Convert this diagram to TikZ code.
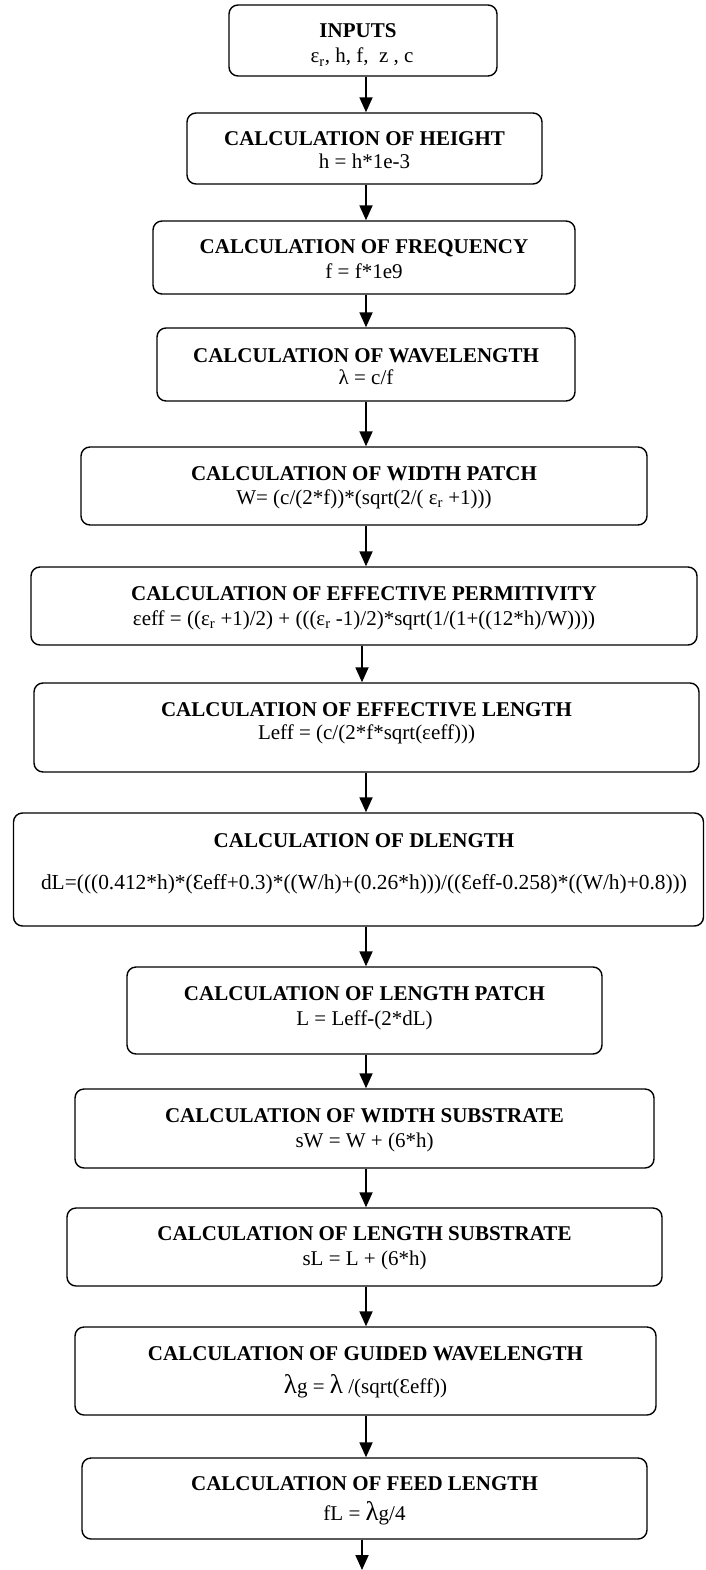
\documentclass[tikz,border=0pt]{standalone}
\usepackage{fontspec}
\setmainfont{Liberation Serif}
\usetikzlibrary{arrows.meta}
\newcommand\epsr{ε\textsubscript{r}}
\newcommand\biglam{{\fontsize{27}{27}\selectfont λ}}
\begin{document}
\begin{tikzpicture}[x=1pt,y=-1pt,
  box/.style={draw, line width=1.4pt, rounded corners=9pt, inner sep=0pt},
  ttl/.style={anchor=base, inner sep=0pt, font=\fontsize{21}{24}\selectfont\bfseries},
  frm/.style={anchor=base, inner sep=0pt, font=\fontsize{21}{24}\selectfont},
  arr/.style={line width=1.8pt, -{Triangle[length=15pt,width=13pt]}}]
\useasboundingbox (0,0) rectangle (705,1570);
\coordinate (ax) at (366,0);
\coordinate (axb) at (362,0);
% boxes
\node[box, minimum width=268pt, minimum height=71pt] (b1) at (363,40.5) {};
\node[box, minimum width=355pt, minimum height=71pt] (b2) at (364.5,148.5) {};
\node[box, minimum width=422pt, minimum height=73pt] (b3) at (364,257.5) {};
\node[box, minimum width=418pt, minimum height=73pt] (b4) at (366,364.5) {};
\node[box, minimum width=566pt, minimum height=78pt] (b5) at (364,486) {};
\node[box, minimum width=666pt, minimum height=78pt] (b6) at (364,606) {};
\node[box, minimum width=665pt, minimum height=89pt] (b7) at (366.5,727.5) {};
\node[box, minimum width=690pt, minimum height=113pt] (b8) at (358.5,869.5) {};
\node[box, minimum width=475pt, minimum height=87pt] (b9) at (364.5,1010.5) {};
\node[box, minimum width=579pt, minimum height=79pt] (b10) at (364.5,1128.5) {};
\node[box, minimum width=595pt, minimum height=78pt] (b11) at (364.5,1247) {};
\node[box, minimum width=581pt, minimum height=88pt] (b12) at (365.5,1371) {};
\node[box, minimum width=565pt, minimum height=81pt] (b13) at (364.5,1498.5) {};
% texts
\node[ttl] (t1) at (358,38) {INPUTS};
\node[frm] (s1) at (362,63) {\epsr, h, f,\ \ z , c};
\node[ttl] (t2) at (364.5,146) {CALCULATION OF HEIGHT};
\node[frm] (s2) at (364.5,169) {h = h*1e-3};
\node[ttl] (t3) at (364,254) {CALCULATION OF FREQUENCY};
\node[frm] (s3) at (364,278) {f = f*1e9};
\node[ttl] (t4) at (366,362) {CALCULATION OF WAVELENGTH};
\node[frm] (s4) at (366,384) {λ = c/f};
\node[ttl] (t5) at (364,480) {CALCULATION OF WIDTH PATCH};
\node[frm] (s5) at (364,504) {W= (c/(2*f))*(sqrt(2/( \epsr{} +1)))};
\node[ttl] (t6) at (364,600) {CALCULATION OF EFFECTIVE PERMITIVITY};
\node[frm] (s6) at (364,625) {εeff = ((\epsr{} +1)/2) + (((\epsr{} -1)/2)*sqrt(1/(1+((12*h)/W))))};
\node[ttl] (t7) at (366.5,716) {CALCULATION OF EFFECTIVE LENGTH};
\node[frm] (s7) at (366.5,739) {Leff = (c/(2*f*sqrt(εeff)))};
\node[ttl] (t8) at (364,847) {CALCULATION OF DLENGTH};
\node[frm, font=\fontsize{21.4}{24}\selectfont] (s8) at (364,889) {dL=(((0.412*h)*(Ɛeff+0.3)*((W/h)+(0.26*h)))/((Ɛeff-0.258)*((W/h)+0.8)))};
\node[ttl] (t9) at (364.5,1000) {CALCULATION OF LENGTH PATCH};
\node[frm] (s9) at (364.5,1025) {L = Leff-(2*dL)};
\node[ttl] (t10) at (364.5,1122) {CALCULATION OF WIDTH SUBSTRATE};
\node[frm] (s10) at (364.5,1147) {sW = W + (6*h)};
\node[ttl] (t11) at (364.5,1240) {CALCULATION OF LENGTH SUBSTRATE};
\node[frm] (s11) at (364.5,1265) {sL = L + (6*h)};
\node[ttl] (t12) at (365.5,1360) {CALCULATION OF GUIDED WAVELENGTH};
\node[frm] (s12) at (365.5,1393) {\biglam g = \biglam{} /(sqrt(Ɛeff))};
\node[ttl] (t13) at (364.5,1490) {CALCULATION OF FEED LENGTH};
\node[frm] (s13) at (364.5,1520) {fL = \biglam g/4};
% arrows
\draw[arr] (b1.south -| ax) -- (b2.north -| ax);
\draw[arr] (b2.south -| ax) -- (b3.north -| ax);
\draw[arr] (b3.south -| ax) -- (b4.north -| ax);
\draw[arr] (b4.south -| ax) -- (b5.north -| ax);
\draw[arr] (b5.south -| ax) -- (b6.north -| ax);
\draw[arr] (b6.south -| axb) -- (b7.north -| axb);
\draw[arr] (b7.south -| ax) -- (b8.north -| ax);
\draw[arr] (b8.south -| ax) -- (b9.north -| ax);
\draw[arr] (b9.south -| ax) -- (b10.north -| ax);
\draw[arr] (b10.south -| ax) -- (b11.north -| ax);
\draw[arr] (b11.south -| ax) -- (b12.north -| ax);
\draw[arr] (b12.south -| ax) -- (b13.north -| ax);
\coordinate (fin) at (362,1570);
\draw[arr] (b13.south -| fin) -- (fin);
\end{tikzpicture}
\end{document}
